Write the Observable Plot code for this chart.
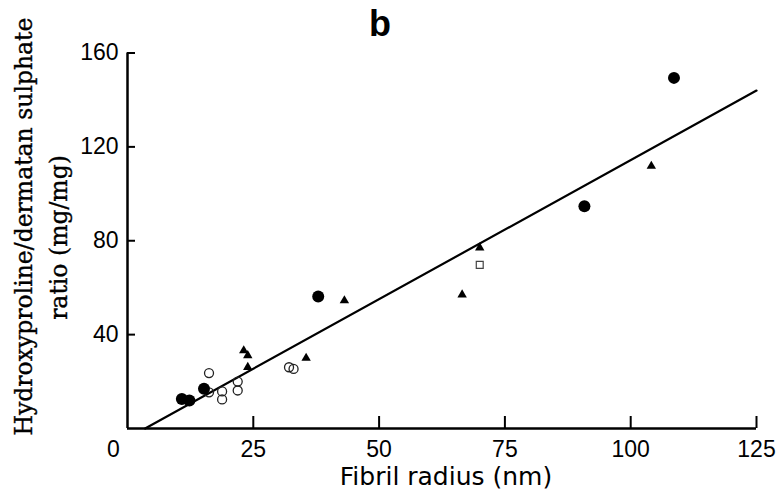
<!DOCTYPE html>
<html><head><meta charset="utf-8">
<script src="https://cdn.jsdelivr.net/npm/d3@7"></script>
<script src="https://cdn.jsdelivr.net/npm/@observablehq/plot@0.6"></script>
<style>
body{margin:0;background:#fff;}
#wrap{position:relative;width:781px;height:494px;}
#title{position:absolute;left:369px;top:5.5px;font:bold 36px "Liberation Sans",Arial,sans-serif;line-height:1;color:#000;margin:0;}
</style></head><body>
<div id="wrap"><div id="title">b</div><div id="chart"></div></div>
<script>
// Data (x: fibril radius nm, y: Hyp/DS ratio mg/mg)
const filledCircles = [[108.6,149.4],[90.8,94.7],[37.9,56.2],[15.2,16.9],[10.8,12.6],[12.3,11.9]];
const filledTriangles = [[104.1,111.8],[70.0,77.0],[66.5,57.0],[43.1,54.5],[35.5,30.0],[23.1,33.2],[23.9,31.1],[23.9,26.1]];
const openCircles = [[16.2,23.6],[16.2,15.4],[18.8,15.8],[18.8,12.4],[21.9,20.0],[21.9,16.2],[32.1,26.1],[33.0,25.4]];
const openSquares = [[70.0,69.7]];
const fitLineX = [3.5, 125];
const fitLineY = [0, 144];
const xTicks = [25, 50, 75, 100, 125];
const originTick = [0];
const yTicks = [40, 80, 120, 160];
const xLabel = "Fibril radius (nm)";
const yLabelLines = ["Hydroxyproline/dermatan sulphate", "ratio (mg/mg)"];

const W = 781, H = 494, mT = 52.5, mR = 25, mB = 66, mL = 127;
const frameW = W - mL - mR, frameH = H - mT - mB;
const fitLine = fitLineX.map((x, i) => ({x, y: fitLineY[i]}));
const px = d => d[0], py = d => d[1];
const tickFont = {fontFamily: "Liberation Sans, Arial, sans-serif", fontSize: 23};
const yLabelStyle = {frameAnchor: "left", textAnchor: "middle", lineAnchor: "middle", rotate: -90, fontSize: 23.5, fontFamily: "DejaVu Serif, serif", fill: "black", stroke: "black", strokeWidth: 0.35};

const chart = Plot.plot({
  width: W,
  height: H,
  marginTop: mT,
  marginRight: mR,
  marginBottom: mB,
  marginLeft: mL,
  style: {background: "white", color: "black", fontFamily: "Liberation Sans, Arial, sans-serif"},
  x: {domain: [0, 125]},
  y: {domain: [0, 160]},
  marks: [
    // inward tick marks (12px up from the x axis, 8px right of the y axis)
    Plot.ruleX(xTicks, {x: d => d, insetTop: frameH - 12, strokeWidth: 2}),
    Plot.ruleY(yTicks, {y: d => d, insetRight: frameW - 8, strokeWidth: 2}),
    // tick labels
    Plot.axisX(xTicks, {anchor: "bottom", tickSize: 0, tickPadding: 12.5, label: null, ...tickFont}),
    Plot.axisX(originTick, {anchor: "bottom", tickSize: 0, tickPadding: 12.5, dx: -14, label: null, ...tickFont}),
    Plot.axisY(yTicks, {anchor: "left", tickSize: 0, tickPadding: 9, label: null, ...tickFont}),
    Plot.ruleY([0], {strokeWidth: 2.5}),
    Plot.ruleX([0], {strokeWidth: 2.5}),
    Plot.line(fitLine, {x: "x", y: "y", stroke: "black", strokeWidth: 2.2}),
    Plot.dot(openCircles, {x: px, y: py, r: 4.5, fill: "none", stroke: "#222", strokeWidth: 1.3}),
    Plot.dot(openSquares, {x: px, y: py, symbol: "square", r: 3.9, fill: "none", stroke: "#444", strokeWidth: 1.2}),
    Plot.dot(filledTriangles, {x: px, y: py, symbol: "triangle", r: 3.5, fill: "black", stroke: "none"}),
    Plot.dot(filledCircles, {x: px, y: py, r: 6, fill: "black", stroke: "none"}),
    Plot.text([xLabel], {frameAnchor: "bottom", textAnchor: "middle", lineAnchor: "middle", dx: 4, dy: 48, fontSize: 25, fontFamily: "DejaVu Sans, sans-serif", fill: "black"}),
    Plot.text([yLabelLines[0]], {...yLabelStyle, dx: -103, dy: -14.25}),
    Plot.text([yLabelLines[1]], {...yLabelStyle, dx: -68, dy: -3.25})
  ]
});
document.getElementById("chart").appendChild(chart);
</script>
</body></html>
